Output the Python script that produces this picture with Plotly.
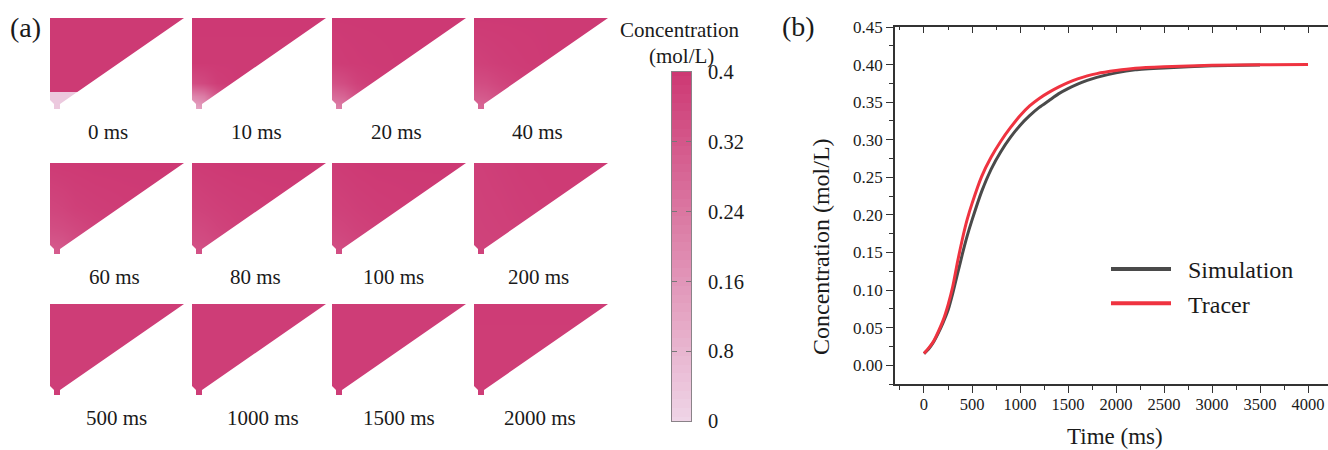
import plotly.graph_objects as go

W, H = 1328, 450
FONT = "Liberation Serif"
INK = "#1a1a1a"

# ---------- panel (a) ----------
PANEL_LABELS = ["0 ms", "10 ms", "20 ms", "40 ms", "60 ms", "80 ms", "100 ms", "200 ms",
                "500 ms", "1000 ms", "1500 ms", "2000 ms"]
GRID_X = [0, 12, 25, 45, 75, 134]
GRID_Y = [0, 45, 65, 78, 91]
P0_Z = [[0.395], [0.03]]
P0_Y = [0, 74, 91]
P0_X = [0, 134]
P10 = [[.397]*6, [.395]*6, [.345, .36, .385, .395, .397, .397], [.20, .23, .32, .39, .397, .397], [.10, .14, .24, .37, .39, .39]]
P20 = [[.397]*6, [.385, .39, .393, .395, .397, .397], [.335, .35, .375, .39, .395, .397], [.27, .29, .34, .38, .39, .39], [.20, .22, .30, .37, .39, .39]]
P40 = [[.395]*6, [.375, .38, .385, .39, .395, .397], [.345, .35, .365, .38, .39, .39], [.31, .32, .34, .37, .385, .39], [.27, .28, .32, .36, .38, .38]]
P60 = [[.393, .395, .395, .397, .397, .397], [.365, .37, .38, .385, .39, .395], [.345, .35, .36, .375, .385, .39], [.325, .33, .35, .37, .38, .38], [.30, .31, .34, .36, .38, .38]]
P80 = [[.39, .393, .395, .397, .397, .397], [.37, .375, .38, .385, .39, .395], [.355, .36, .37, .38, .385, .39], [.345, .35, .36, .375, .38, .38], [.33, .335, .35, .37, .38, .38]]
P100 = [[.388, .392, .395, .397, .397, .397], [.375, .378, .383, .388, .392, .395], [.362, .368, .375, .382, .388, .39], [.352, .358, .368, .378, .385, .385], [.34, .345, .36, .375, .385, .385]]
P200 = [[.38, .382, .385, .39, .393, .395], [.375, .378, .38, .385, .39, .392], [.374, .376, .378, .382, .388, .39], [.372, .374, .376, .38, .385, .385], [.37, .372, .375, .38, .385, .385]]
P500 = [[.388]*6, [.386]*6, [.385]*6, [.384]*6, [.384]*6]
P1000 = [[.387]*6, [.386]*6, [.385]*6, [.385]*6, [.385]*6]
P1500 = [[.388]*6, [.387]*6, [.386]*6, [.386]*6, [.386]*6]
P2000 = [[.389]*6, [.388]*6, [.388]*6, [.387]*6, [.387]*6]
PANEL_Z = [P10, P20, P40, P60, P80, P100, P200, P500, P1000, P1500, P2000]
# white area outside the chamber outline, in the panel's own units
MASK_X = [134, 13, 10, 10, 4, 4, 0, -3, -3, 137, 137, 134]
MASK_Y = [0, 84, 86, 91, 91, 86, 82, 82, 94, 94, -1, 0]
COLS = [50, 192, 332, 474]
ROWS = [18, 163, 304]
LABEL_XY = [(108, 132), (256, 132), (396, 132), (537, 132),
            (114, 277), (255, 277), (393, 277), (538, 277),
            (116, 418), (263, 418), (399, 418), (540, 418)]
CB_LEVELS = [0, .01, .02, .03, .04, .05, .06, .07, .08, .09, .10, .11, .12, .13, .14, .15, .16, .17, .18, .19, .20,
             .21, .22, .23, .24, .25, .26, .27, .28, .29, .30, .31, .32, .33, .34, .35, .36, .37, .38, .39, .40]
CB_TICKS = [0, .08, .16, .24, .32, .4]
CB_TEXT = ["0", "0.8", "0.16", "0.24", "0.32", "0.4"]

# ---------- panel (b) ----------
TRACER_T = [0, 50, 100, 150, 200, 250, 300, 350, 400, 450, 500, 600, 700, 800, 900, 1000, 1100, 1200, 1300, 1400, 1500,
            1600, 1700, 1800, 2000, 2200, 2500, 3000, 3500, 4000]
TRACER_V = [.0155, .023, .032, .045, .06, .08, .105, .138, .168, .194, .215, .251, .277, .298, .316, .332, .345, .355,
            .363, .370, .376, .381, .385, .388, .392, .395, .397, .399, .3997, .400]
SIM_T = [0, 50, 100, 150, 200, 250, 300, 350, 400, 450, 500, 600, 700, 800, 900, 1000, 1100, 1200, 1300, 1400, 1500,
         1600, 1700, 1800, 2000, 2200, 2500, 3000, 3500]
SIM_V = [.0155, .022, .031, .043, .057, .073, .096, .122, .148, .172, .193, .231, .261, .284, .303, .319, .332, .343,
         .352, .361, .368, .374, .379, .383, .389, .393, .3955, .3985, .3995]
X_TICKS = [0, 500, 1000, 1500, 2000, 2500, 3000, 3500, 4000]
Y_TICKS = [0, .05, .10, .15, .20, .25, .30, .35, .40, .45]


def fx(px):
    return px / W


def fy(py):
    return 1 - py / H


fig = go.Figure()
layout = dict(
    width=W, height=H, autosize=False, margin=dict(l=0, r=0, t=0, b=0, autoexpand=False),
    paper_bgcolor="white", plot_bgcolor="white",
    font=dict(family=FONT, color=INK, size=20),
    coloraxis=dict(cmin=0, cmax=0.4, showscale=False,
                   colorscale=[[0, "#EFD5E7"], [1, "#CD3873"]]),
)
annotations = []


def note(px, py, text, size=21, **kw):
    annotations.append(dict(x=fx(px), y=fy(py), xref="paper", yref="paper", text=text, showarrow=False,
                            font=dict(family=FONT, size=size, color=INK), xanchor="center", yanchor="middle", **kw))


# main line chart
fig.add_trace(go.Scatter(x=SIM_T, y=SIM_V, mode="lines", showlegend=False,
                         line=dict(color="#4a4a4a", width=3, shape="spline", smoothing=0.6)))
fig.add_trace(go.Scatter(x=TRACER_T, y=TRACER_V, mode="lines", showlegend=False,
                         line=dict(color="#ef3340", width=3, shape="spline", smoothing=0.6)))
fig.add_trace(go.Scatter(x=[None], y=[None], mode="lines", name="\u00a0\u00a0Simulation", legendgroup="s",
                         line=dict(color="#4a4a4a", width=4)))
fig.add_trace(go.Scatter(x=[None], y=[None], mode="lines", name="\u00a0\u00a0Tracer", legendgroup="t",
                         line=dict(color="#ef3340", width=4)))
fig.add_trace(go.Scatter(x=[None], y=[None], xaxis="x2", yaxis="y", mode="lines", showlegend=False))

XR = [-302, 4208]
layout["xaxis"] = dict(domain=[fx(895), 1], range=XR, anchor="y", tickvals=X_TICKS, showgrid=False, zeroline=False,
                       showline=True, linecolor="#333", linewidth=1.6, ticks="outside", ticklen=7, tickwidth=1.3,
                       tickcolor="#333", tickfont=dict(size=16.5), ticklabelstandoff=-3,
                       minor=dict(dtick=250, tick0=0, ticks="outside", ticklen=4, tickwidth=1.2, tickcolor="#333"))
layout["xaxis2"] = dict(domain=[fx(895), 1], range=XR, anchor="y", overlaying="x", side="top", tickvals=X_TICKS,
                        showgrid=False, zeroline=False, showline=True, linecolor="#333", linewidth=1.6, ticks="inside",
                        ticklen=6, tickwidth=1.3, tickcolor="#333", showticklabels=False,
                        minor=dict(dtick=250, tick0=0, ticks="inside", ticklen=3, tickwidth=1.2, tickcolor="#333"))
layout["yaxis"] = dict(domain=[fy(384), fy(27)], range=[-0.025, 0.45], anchor="x", tickvals=Y_TICKS, tickformat=".2f",
                       showgrid=False, zeroline=False, showline=True, linecolor="#333", linewidth=1.6, ticks="outside",
                       ticklen=7, tickwidth=1.3, tickcolor="#333", tickfont=dict(size=17),
                       minor=dict(dtick=0.025, tick0=0, ticks="outside", ticklen=4, tickwidth=1.2, tickcolor="#333"))
layout["legend"] = dict(x=fx(1106), y=fy(247), xanchor="left", yanchor="top", bgcolor="rgba(0,0,0,0)",
                        font=dict(size=24, family=FONT, color=INK), itemwidth=60, tracegroupgap=0)

# heat panels
axis_id = 3
for i, label in enumerate(PANEL_LABELS):
    col, row = i % 4, i // 4
    left, top = COLS[col], ROWS[row]
    xa, ya = f"x{axis_id}", f"y{axis_id}"
    if i == 0:
        fig.add_trace(go.Heatmap(x=P0_X, y=P0_Y, z=P0_Z, coloraxis="coloraxis", xaxis=xa, yaxis=ya, hoverinfo="skip"))
    else:
        fig.add_trace(go.Heatmap(x=GRID_X, y=GRID_Y, z=PANEL_Z[i - 1], coloraxis="coloraxis", xaxis=xa, yaxis=ya,
                                 zsmooth="best", hoverinfo="skip"))
    fig.add_trace(go.Scatter(x=MASK_X, y=MASK_Y, mode="lines", fill="toself", fillcolor="white", xaxis=xa, yaxis=ya,
                             line=dict(width=0, color="white"), hoverinfo="skip", showlegend=False, cliponaxis=False))
    layout[f"xaxis{axis_id}"] = dict(domain=[fx(left), fx(left + 134)], range=[0, 134], anchor=ya, visible=False)
    layout[f"yaxis{axis_id}"] = dict(domain=[fy(top + 91), fy(top)], range=[91, 0], anchor=xa, visible=False)
    note(LABEL_XY[i][0], LABEL_XY[i][1], label)
    axis_id += 1

# colour bar
xa, ya = f"x{axis_id}", f"y{axis_id}"
fig.add_trace(go.Heatmap(x=[0, 1], y=CB_LEVELS, z=[[v, v] for v in CB_LEVELS], coloraxis="coloraxis", xaxis=xa, yaxis=ya,
                         hoverinfo="skip"))
layout[f"xaxis{axis_id}"] = dict(domain=[fx(672), fx(691)], range=[0, 1], anchor=ya, showticklabels=False, ticks="",
                                 showgrid=False, zeroline=False, showline=True, mirror=True, linecolor="#8a8288", linewidth=1)
layout[f"yaxis{axis_id}"] = dict(domain=[fy(421), fy(72)], range=[0, 0.4], anchor=xa, side="right", tickvals=CB_TICKS,
                                 ticktext=CB_TEXT, ticks="inside", ticklen=5, tickwidth=1, tickcolor="#777", mirror="ticks",
                                 showgrid=False, zeroline=False, showline=True, linecolor="#8a8288", linewidth=1,
                                 tickfont=dict(size=20.5), ticklabelstandoff=12)

note(679, 30, "Concentration", 21)
note(681, 56, "(mol/L)", 21)
note(25, 27, "(a)", 28)
note(798, 26, "(b)", 28)
note(821, 247, "Concentration (mol/L)", 24, textangle=-90)
note(1115, 436, "Time (ms)", 23)
layout["annotations"] = annotations

fig.update_layout(**layout)
fig.write_html("out.html", config=dict(displayModeBar=False), post_script="document.body.style.margin='0';")
